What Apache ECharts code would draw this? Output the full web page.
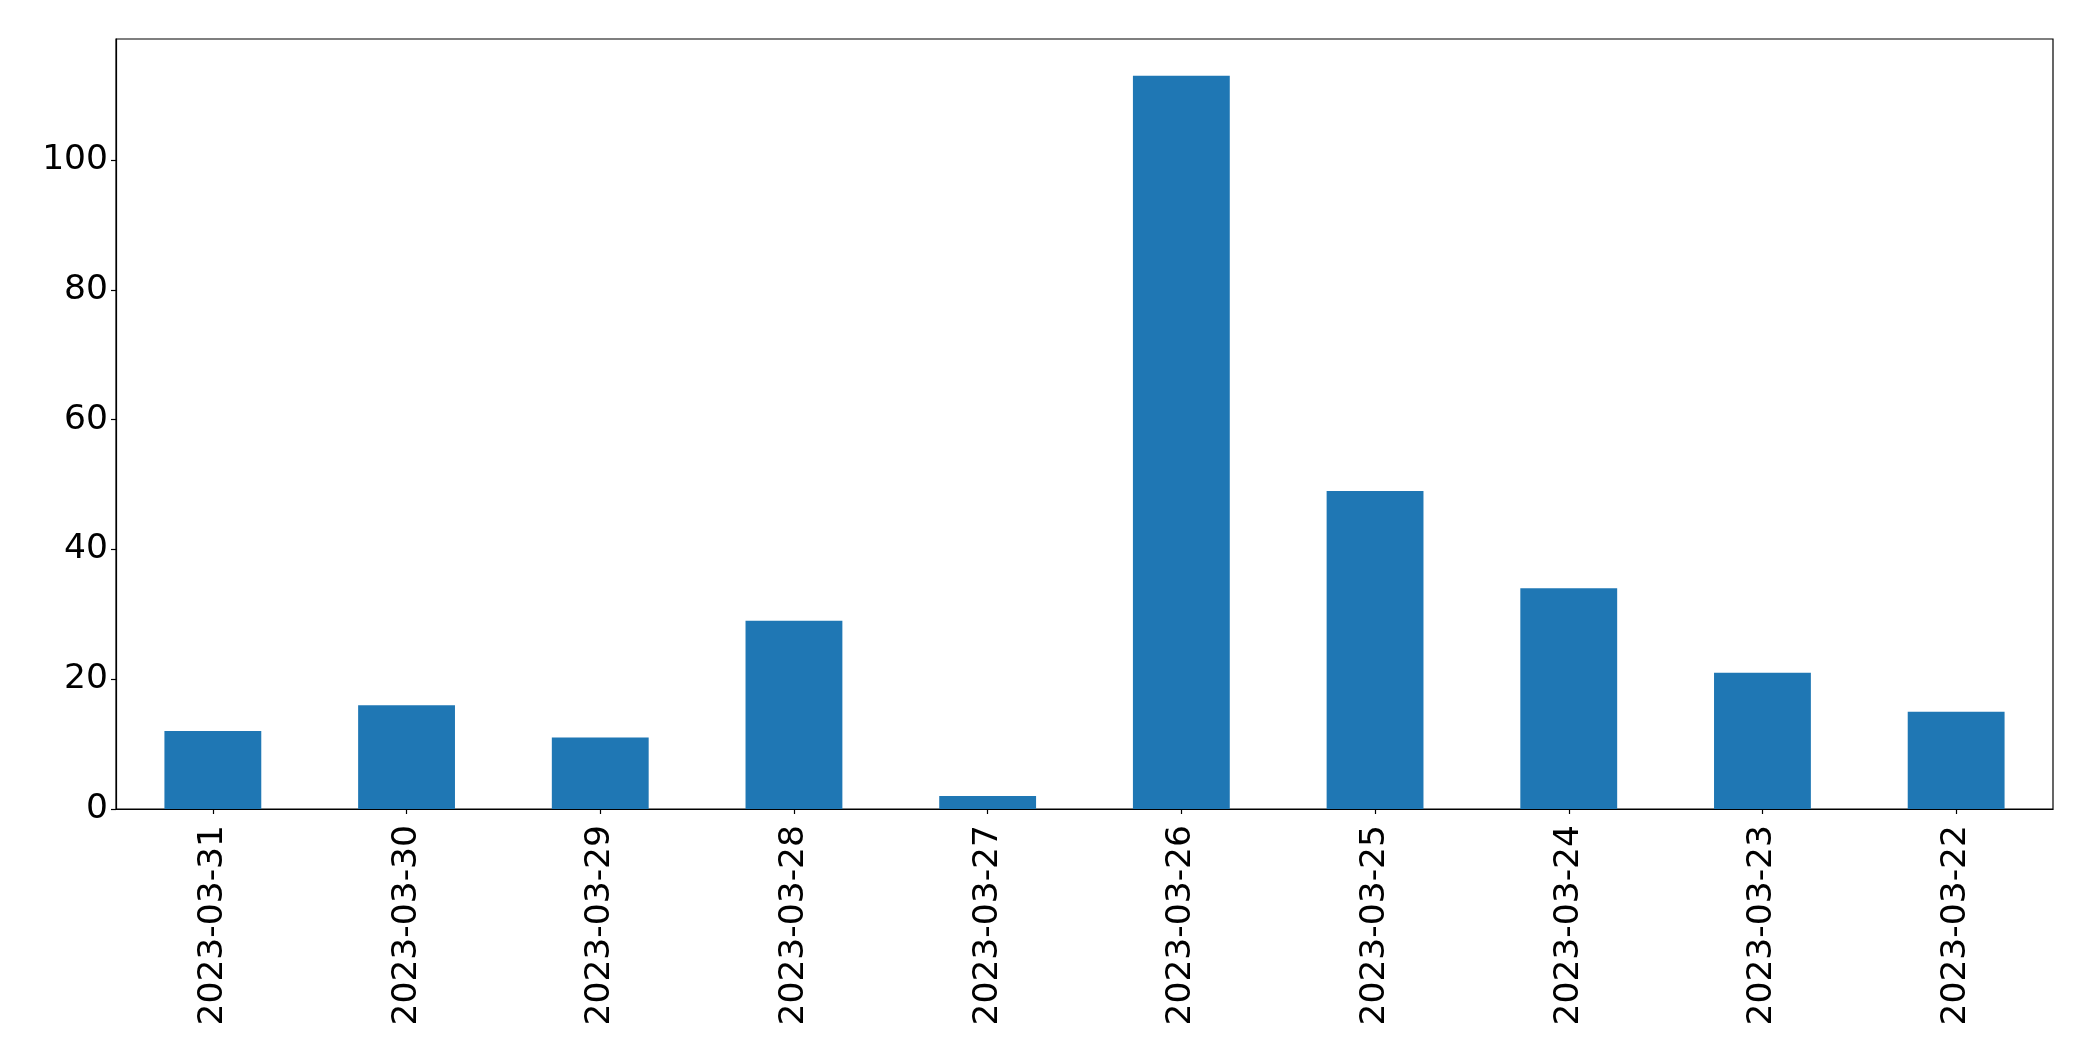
<!DOCTYPE html>
<html>
<head>
<meta charset="utf-8">
<script src="https://cdn.jsdelivr.net/npm/echarts@6/dist/echarts.min.js"></script>
<style>html,body{margin:0;padding:0;background:#fff;}#c{width:2093px;height:1061px;}</style>
</head>
<body>
<div id="c"></div>
<script>
const categories = ['2023-03-31','2023-03-30','2023-03-29','2023-03-28','2023-03-27','2023-03-26','2023-03-25','2023-03-24','2023-03-23','2023-03-22'];
const values = [12, 16, 11, 29, 2, 113, 49, 34, 21, 15];
const yTicks = [0, 20, 40, 60, 80, 100];
const yMax = 118.65;

const chart = echarts.init(document.getElementById('c'), null, {renderer: 'canvas'});
const font = 'DejaVu Sans';
chart.setOption({
  animation: false,
  backgroundColor: '#ffffff',
  grid: {left: 116, top: 39, right: 40, bottom: 252, show: true, borderColor: '#000', borderWidth: 1.2, backgroundColor: 'transparent'},
  xAxis: {
    type: 'category',
    data: categories,
    boundaryGap: true,
    axisLine: {show: true, lineStyle: {color: '#000', width: 1.2}},
    axisTick: {show: true, alignWithLabel: true, length: 5, lineStyle: {color: '#000', width: 1.2}},
    axisLabel: {rotate: 90, margin: 16, fontSize: 34.5, fontFamily: font, color: '#000', interval: 0},
    splitLine: {show: false}
  },
  yAxis: {
    type: 'value',
    min: 0,
    max: yMax,
    interval: 20,
    axisLine: {show: true, lineStyle: {color: '#000', width: 1.2}},
    axisTick: {show: true, length: 5, customValues: yTicks, lineStyle: {color: '#000', width: 1.2}},
    axisLabel: {margin: 8, fontSize: 34.5, fontFamily: font, color: '#000', customValues: yTicks, padding: [12, 0, 0, 0]},
    splitLine: {show: false}
  },
  series: [{
    type: 'bar',
    data: values,
    barWidth: '50%',
    itemStyle: {color: '#1f77b4'}
  }]
});
</script>
</body>
</html>
